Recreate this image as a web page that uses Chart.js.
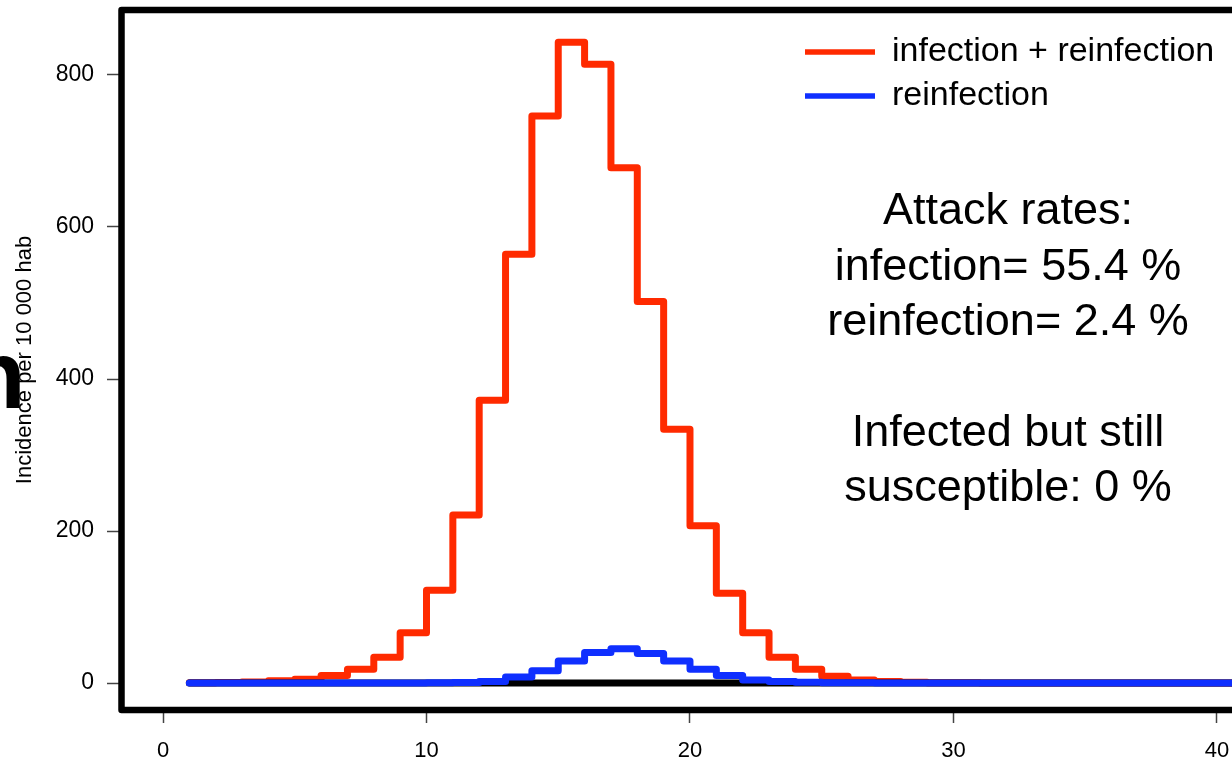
<!DOCTYPE html>
<html lang="en">
<head>
<meta charset="UTF-8">
<title>Incidence per 10 000 hab</title>
<style>
  html, body { margin: 0; padding: 0; background: #fff; }
  #wrap { width: 1232px; height: 762px; position: relative; }
</style>
</head>
<body>
<div id="wrap"><canvas id="chart"></canvas></div>
<script src="https://cdn.jsdelivr.net/npm/chart.js"></script>
<script>
const days = [1, 2, 3, 4, 5, 6, 7, 8, 9, 10, 11, 12, 13, 14, 15, 16, 17, 18, 19, 20,
  21, 22, 23, 24, 25, 26, 27, 28, 29, 30, 31, 32, 33, 34, 35, 36, 37, 38, 39, 40,
  41, 42, 43, 44, 45];
const infectionReinfection = [0.4, 0.8, 1.5, 3, 5, 10, 18, 34, 66, 122, 221, 372, 564, 746, 843, 814, 678, 502, 334, 207,
  118, 66, 34, 18, 9, 4, 2, 1, 0.5, 0.2, 0.1, 0, 0, 0, 0, 0, 0, 0, 0, 0,
  0, 0, 0, 0, 0];
const reinfection = [0, 0, 0, 0, 0, 0, 0, 0, 0, 0.2, 0.6, 2, 8, 16, 29, 40, 45, 39, 29, 18,
  10, 4, 2, 1, 0.5, 0.2, 0, 0, 0, 0, 0, 0, 0, 0, 0, 0, 0, 0, 0, 0,
  0, 0, 0, 0, 0];
const stillSusceptible = [0, 0, 0, 0, 0, 0, 0, 0, 0, 0, 0, 0, 0, 0, 0, 0, 0, 0, 0, 0,
  0, 0, 0, 0, 0, 0, 0, 0, 0, 0, 0, 0, 0, 0, 0, 0, 0, 0, 0, 0,
  0, 0, 0, 0, 0];
const xTicks = [0, 10, 20, 30, 40];
const yTicks = [0, 200, 400, 600, 800];
const notes = ['Attack rates:', 'infection= 55.4 %', 'reinfection= 2.4 %', '', 'Infected but still', 'susceptible: 0 %'];

const family = '"Liberation Sans", Arial, Helvetica, sans-serif';
Chart.defaults.font.family = family;
Chart.defaults.color = '#000';

const RED = '#ff2a00';
const BLUE = '#0f2fff';

const pts = vals => days.map((d, i) => ({ x: d, y: vals[i] }));

// box, text block on the right, and the cut-off letter at the left edge
const extras = {
  id: 'extras',
  afterLayout(chart) {
    // put the legend in the top right corner of the plot
    const lg = chart.legend;
    lg.left = 795;
    lg.top = 25;
  },
  afterDraw(chart) {
    const { ctx, chartArea: a } = chart;
    ctx.save();
    ctx.lineWidth = 6.5;
    ctx.strokeStyle = '#000';
    ctx.lineJoin = 'round';
    ctx.beginPath();
    ctx.moveTo(a.right + 20, a.top);
    ctx.lineTo(a.left, a.top);
    ctx.lineTo(a.left, a.bottom);
    ctx.lineTo(a.right + 20, a.bottom);
    ctx.stroke();

    ctx.fillStyle = '#000';
    ctx.font = '45px ' + family;
    ctx.textAlign = 'center';
    ctx.textBaseline = 'middle';
    notes.forEach((t, i) => ctx.fillText(t, 1008, 212 + i * 55.3));

    ctx.font = 'bold 96px ' + family;
    ctx.textAlign = 'left';
    ctx.textBaseline = 'alphabetic';
    ctx.fillText('n', -33, 408);
    ctx.restore();
  }
};

const tickGrid = len => ({
  drawOnChartArea: false,
  drawTicks: true,
  tickLength: len,
  tickColor: '#444',
  tickWidth: 1.5
});

new Chart(document.getElementById('chart'), {
  type: 'line',
  data: {
    datasets: [
      {
        label: 'infection + reinfection',
        data: pts(infectionReinfection),
        borderColor: RED, backgroundColor: RED,
        borderWidth: 7, stepped: true, pointRadius: 0,
        borderCapStyle: 'round', borderJoinStyle: 'round',
        order: 2
      },
      {
        label: 'reinfection',
        data: pts(reinfection),
        borderColor: BLUE, backgroundColor: BLUE,
        borderWidth: 7, stepped: true, pointRadius: 0,
        borderCapStyle: 'round', borderJoinStyle: 'round',
        order: 0
      },
      {
        label: 'infected but still susceptible',
        data: pts(stillSusceptible),
        borderColor: '#000', backgroundColor: '#000',
        borderWidth: 7, stepped: true, pointRadius: 0,
        borderCapStyle: 'round', borderJoinStyle: 'round',
        order: 1
      }
    ]
  },
  options: {
    responsive: true,
    maintainAspectRatio: false,
    animation: false,
    layout: { padding: { top: 10, right: 0, bottom: 0, left: 0 }, autoPadding: false },
    plugins: {
      tooltip: { enabled: false },
      legend: {
        position: 'chartArea',
        align: 'start',
        reverse: true,
        labels: {
          filter: item => item.datasetIndex !== 2,
          usePointStyle: true,
          pointStyle: 'line',
          pointStyleWidth: 70,
          padding: 10,
          color: '#000',
          font: { size: 34 },
          generateLabels: chart => Chart.defaults.plugins.legend.labels.generateLabels(chart)
            .map(it => ({ ...it, lineWidth: 5.5 }))
        }
      }
    },
    scales: {
      x: {
        type: 'linear',
        min: -1.575,
        max: 40.57,
        afterBuildTicks: s => { s.ticks = xTicks.map(v => ({ value: v })); },
        afterFit: s => { s.height = 52; s.paddingLeft = 0; s.paddingRight = 0; },
        grid: tickGrid(13),
        border: { display: false },
        ticks: { padding: 15, font: { size: 22 }, color: '#000', maxRotation: 0, autoSkip: false }
      },
      y: {
        min: -35.5,
        max: 885.5,
        afterBuildTicks: s => { s.ticks = yTicks.map(v => ({ value: v })); },
        afterFit: s => { s.width = 121.5; s.paddingTop = 0; s.paddingBottom = 0; },
        grid: tickGrid(14.5),
        border: { display: false },
        ticks: { padding: 13, font: { size: 23 }, color: '#000', autoSkip: false },
        title: {
          display: true,
          text: 'Incidence per 10 000 hab',
          font: { size: 22 },
          color: '#000',
          align: 'center',
          padding: { top: 12, bottom: 0 }
        }
      }
    }
  },
  plugins: [extras]
});
</script>
</body>
</html>
